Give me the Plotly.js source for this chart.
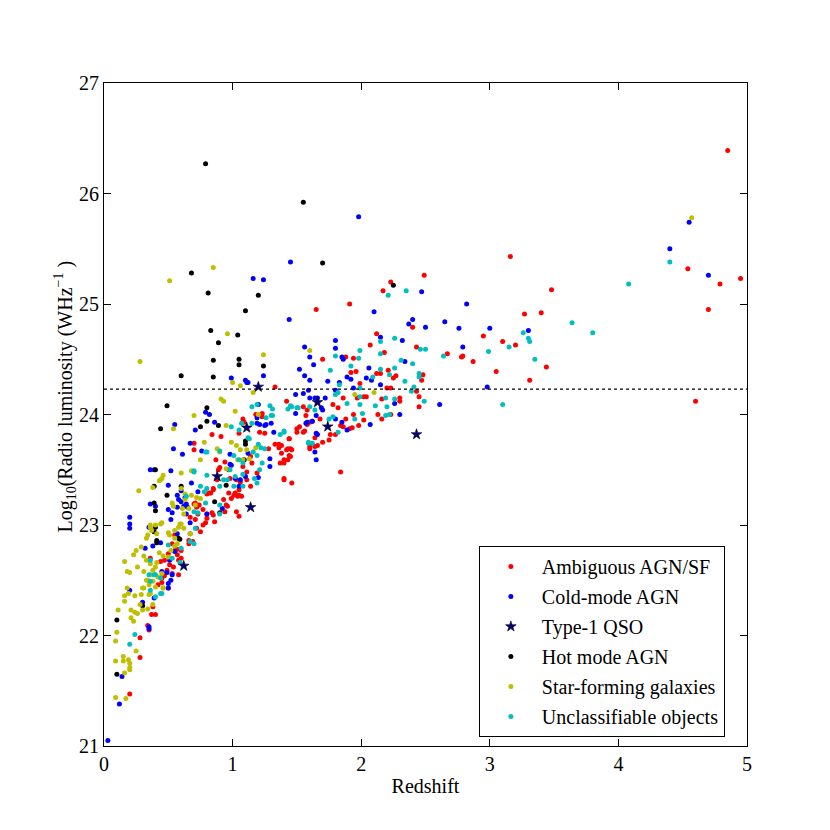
<!DOCTYPE html>
<html>
<head>
<meta charset="utf-8">
<script src="https://cdn.plot.ly/plotly-3.0.1.min.js"></script>
<style>html,body{margin:0;padding:0;background:#fff;}#chart{width:830px;height:830px;}</style>
</head>
<body>
<div id="chart"></div>
<script>
// Series names
const seriesNames = ["Ambiguous AGN/SF", "Cold-mode AGN", "Type-1 QSO", "Hot mode AGN", "Star-forming galaxies", "Unclassifiable objects"];
// [redshift, log10 radio luminosity]
const ambiguousAGN = [[4.85,26.39],[3.16,25.43],[3.48,25.13],[3.27,24.91],[3.40,24.92],[2.95,24.71],[3.10,24.66],[3.20,24.63],[2.79,24.53],[2.87,24.48],[3.05,24.39],[3.31,24.31],[3.44,24.43],[4.54,25.32],[4.79,25.18],[4.95,25.23],[4.70,24.95],[4.60,24.12],[2.49,25.26],
[2.23,25.20],[2.17,25.12],[1.91,25.0],[1.65,24.95],[2.40,24.79],[2.12,24.73],[2.07,24.63],[2.43,24.61],[2.18,24.56],[2.67,24.55],[2.78,24.52],[1.70,24.50],[1.88,24.52],[1.94,24.51],[1.96,24.39],[1.92,24.38],[2.12,24.37],[2.15,24.37],[2.21,24.40],[2.25,24.33],[2.27,24.35],[2.23,24.24],[2.48,24.36],[2.47,24.31],[2.43,24.21],[2.45,24.16],[2.45,24.07],[2.30,24.15],[2.30,24.12],[2.16,24.14],[2.20,24.24],[1.99,24.28],[1.97,24.15],[2.02,24.16],[2.04,24.16],[1.91,23.87],[1.93,23.88],[1.86,23.89],[1.84,23.90],[1.98,23.90],[2.02,23.95],[1.94,24.0],[1.88,23.96],[2.13,24.0],[2.16,23.96],[2.23,24.0],[1.82,24.06],[1.78,24.09],[1.86,24.15],[1.76,23.82],[1.80,23.82],[1.75,23.77],[1.70,23.75],[1.64,23.79],[1.60,23.93],[1.62,23.94],[1.58,23.91],[1.52,23.89],[1.50,23.87],[1.50,23.84],[1.55,23.84],[1.58,24.04],[1.68,23.96],[1.42,24.12],[1.64,23.71],[1.66,23.72],[1.60,23.69],[1.44,23.78],[1.45,23.69],[1.42,23.68],[1.44,23.63],[1.40,23.56],[1.38,23.72],[1.84,23.48],[1.40,23.42],
[1.33,24.25],[1.55,24.07],[1.57,23.99],[1.56,23.85],[1.60,23.71],[0.84,23.82],[0.91,23.80],[1.05,23.83],[1.08,23.96],[1.09,23.93],[1.18,24.00],[1.23,23.98],[1.21,23.84],[1.25,23.83],[1.33,23.73],[1.36,23.70],[1.38,23.65],[1.43,23.69],[1.46,23.68],[1.43,23.59],[1.37,23.56],[1.28,23.69],[1.14,23.62],[1.08,23.53],[1.11,23.48],[1.15,23.56],[1.19,23.47],[0.94,23.57],[0.90,23.52],[0.97,23.50],[0.98,23.42],[1.03,23.41],[1.06,23.39],[1.11,23.41],[1.14,23.35],[1.05,23.32],[1.02,23.29],[1.05,23.27],[1.07,23.26],[0.97,23.29],[0.93,23.23],[0.85,23.33],[0.82,23.29],[0.71,23.20],[0.77,23.14],[0.80,23.10],[0.84,23.11],[0.94,23.12],[0.88,23.41],[0.87,23.59],[1.40,23.59],[1.45,23.62],[1.40,23.41],[1.46,23.38],[1.36,23.73],[1.44,23.78],[1.23,24.01],[0.70,23.74],[0.70,23.68],[0.89,23.50],[1.01,23.27],[0.99,23.24],[1.04,23.26],[1.05,23.08],[0.96,23.17],[0.74,23.18],[0.71,23.05],
[0.80,23.28],[0.83,23.29],[0.85,23.32],[0.70,23.19],[0.72,23.16],[0.73,23.10],[0.67,23.07],[0.80,23.06],[0.77,23.00],[0.79,23.02],[0.72,22.97],[0.75,22.94],[0.86,23.03],[0.95,23.18],[1.03,23.12],[0.66,22.86],[0.69,22.85],[0.60,22.77],[0.55,22.77],[0.57,22.73],[0.50,22.74],[0.47,22.68],[0.51,22.64],[0.54,22.62],[0.58,22.68],[0.60,22.70],[0.47,22.54],[0.45,22.52],[0.50,22.43],[0.42,22.46],[0.85,23.09],[0.67,22.92],[0.66,22.83],[0.55,22.91],[0.53,22.83],[0.57,22.78],[0.44,22.67],[0.49,22.59],[0.53,22.56],[0.58,22.55],[0.46,22.56],[0.45,22.48],[0.40,22.19],[0.37,22.19],[0.34,22.09],[0.35,22.05],[0.28,21.98],[0.28,21.80],[0.20,21.47],[0.36,22.70],[0.38,22.26]];
const coldModeAGN = [[1.16,25.23],[1.24,25.22],[1.45,25.38],[1.44,24.86],[1.56,24.61],[1.60,24.52],[1.63,24.45],[1.52,24.41],[1.56,24.35],[1.60,24.31],[1.80,24.67],[1.80,24.60],[1.74,24.30],[0.99,24.33],[1.10,24.31],[1.12,24.29],[1.24,24.35],[1.98,25.79],[2.65,24.84],[2.47,25.11],[2.82,25.00],[2.10,24.93],[2.40,24.86],[2.37,24.82],[2.50,24.79],[2.76,24.78],[2.15,24.70],[2.32,24.67],[2.79,24.61],[1.85,24.52],[1.86,24.50],[2.06,24.42],[2.34,24.48],[1.89,24.34],[1.92,24.32],[1.83,24.29],[2.04,24.33],[2.08,24.31],[1.94,24.24],[1.80,24.22],[1.49,24.18],[1.55,24.19],[1.60,24.15],[1.64,24.15],[1.66,24.15],[1.72,24.15],[1.69,24.06],[1.70,24.04],[1.49,24.01],[1.65,23.99],[1.80,23.96],[1.85,23.93],[1.57,23.92],[1.65,23.83],[1.66,23.82],[1.89,23.86],[2.07,23.91],[2.26,24.10],[2.30,24.00],[2.15,24.27],[2.61,24.09],[1.64,23.66],[3.00,24.78],[2.98,24.25],[3.30,24.76],[4.40,25.50],[4.55,25.74],[4.70,25.26],
[1.11,24.29],[1.20,24.09],[0.79,24.02],[0.82,24.00],[0.86,23.93],[0.55,23.91],[0.71,23.86],[0.67,23.74],[0.54,23.69],[0.61,23.64],[0.36,23.50],[0.39,23.50],[0.52,23.49],[0.50,23.36],[0.60,23.31],[0.57,23.27],[0.63,23.25],[0.36,23.19],[0.40,23.17],[0.64,23.19],[0.57,23.16],[0.64,23.10],[0.52,23.05],[0.20,23.07],[0.20,23.01],[0.20,22.97],[0.35,22.98],[0.57,22.92],[0.67,23.02],[0.32,22.79],[0.38,22.81],[0.44,22.84],[0.51,22.68],[0.45,22.58],[0.98,23.64],[1.02,23.42],[1.06,23.41],[1.10,23.44],[1.05,23.35],[0.80,23.10],[0.99,23.54],[1.12,23.65],[1.21,23.91],[1.25,23.90],[1.19,23.97],[1.32,23.84],[0.76,23.67],[1.19,23.92],[1.26,23.91],[1.30,23.92],[1.59,24.22],[1.58,23.93],[1.62,23.94],[1.65,23.59],[0.98,23.55],[1.29,23.60],[1.29,23.53],[1.20,23.43],[0.68,23.38],[0.73,23.30],[0.62,23.17],[0.65,23.16],[0.92,23.15],[0.20,22.41],[0.30,22.30],[0.39,22.34],[0.35,22.08],[0.35,22.06],[0.14,21.63],[0.12,21.38],[0.03,21.05],[0.49,22.57],[0.53,22.55],[0.50,22.43],[0.52,22.50],[0.55,22.76],[0.58,23.23],[0.60,23.21],[0.53,23.11],[0.50,23.14],[0.50,22.47]];
const type1QSO = [[1.20,24.25],[1.11,23.88],[0.88,23.44],[1.14,23.16],[0.62,22.63],[1.66,24.11],[1.74,23.89],[2.43,23.82]];
const hotModeAGN = [[0.79,26.27],[1.55,25.92],[0.68,25.28],[0.81,25.10],[1.20,25.08],[1.10,24.94],[1.70,25.37],[0.83,24.76],[1.04,24.72],[0.89,24.65],[0.85,24.49],[1.05,24.50],[1.05,24.45],[1.24,24.44],[0.60,24.35],[0.85,24.34],[2.25,25.17],[0.49,24.08],[0.44,23.87],[0.80,24.06],[0.80,23.94],[0.75,23.89],[0.40,23.50],[0.39,23.35],[0.39,23.20],[0.40,23.13],[0.39,22.94],[1.10,23.76],[1.10,23.73],[0.95,23.36],[0.86,23.21],[0.90,23.11],[0.58,22.88],[0.41,22.84],[0.10,22.14],[0.30,22.27],[0.10,21.65],[0.40,22.98],[0.41,22.86],[0.59,22.87],[0.60,23.35],[0.49,23.27],[0.89,23.90],[1.09,23.59]];
const starForming = [[0.51,25.21],[0.85,25.33],[0.96,24.73],[0.28,24.48],[1.24,24.54],[1.60,24.58],[1.00,24.29],[1.06,24.26],[4.57,25.78],[1.95,24.18],[2.10,24.20],[0.91,24.14],[0.93,24.12],[1.02,24.03],[1.16,24.20],[1.20,24.00],[0.70,23.99],[0.54,23.87],[0.78,23.75],[0.75,23.59],[0.95,23.90],[0.99,23.75],[1.03,23.72],[1.06,23.68],[1.11,23.68],[1.08,23.59],[1.04,23.59],[1.13,23.60],[1.16,23.66],[1.18,23.70],[0.88,23.69],[0.90,23.66],[0.95,23.51],[0.68,23.49],[0.44,23.41],[0.43,23.40],[0.46,23.45],[0.60,23.33],[0.63,23.28],[0.75,23.24],[0.72,23.25],[0.54,23.17],[0.53,23.20],[0.61,23.15],[0.66,23.15],[0.36,22.98],[0.40,23.00],[0.45,23.02],[0.50,22.93],[0.55,22.95],[0.59,23.01],[0.62,22.97],[0.27,23.31],[0.38,23.34],[0.45,23.42],[0.60,23.47],[0.34,22.91],[0.37,22.95],[0.36,23.00],[0.44,23.01],[0.41,22.92],[0.51,22.91],[0.55,22.88],[0.58,22.98],[0.60,23.01],[0.67,22.92],[0.25,22.77],[0.23,22.73],[0.16,22.67],[0.31,22.72],[0.33,22.68],[0.36,22.65],[0.40,22.62],[0.38,22.59],[0.46,22.72],[0.50,22.71],[0.52,22.77],[0.55,22.81],[0.57,22.83],[0.18,22.58],[0.31,22.58],[0.34,22.50],[0.31,22.43],[0.40,22.44],[0.46,22.43],[0.16,22.36],[0.24,22.36],[0.29,22.37],[0.36,22.38],[0.62,23.10],[0.63,23.23],[0.68,23.27],[0.71,23.18],[0.20,22.57],[0.33,22.50],[0.35,22.46],[0.36,22.55],[0.45,22.56],[0.46,22.43],[0.18,22.43],[0.19,22.38],[0.30,22.43],[0.35,22.37],[0.16,22.31],[0.11,22.23],[0.21,22.23],[0.24,22.21],[0.26,22.20],[0.21,22.16],[0.23,22.13],[0.28,22.28],[0.30,22.23],[0.34,22.24],[0.38,22.28],[0.10,22.03],[0.09,21.95],[0.25,21.86],[0.15,21.81],[0.15,21.77],[0.09,21.77],[0.19,21.78],[0.20,21.75],[0.20,21.71],[0.20,21.69],[0.16,21.66],[0.09,21.44],[0.17,21.43],[0.41,22.66],[0.43,22.75],[0.38,22.49],[0.42,22.53],[0.26,22.62],[0.29,22.80],[0.33,22.88]];
const unclassifiable = [[4.08,25.18],[4.40,25.38],[3.64,24.83],[3.80,24.74],[3.26,24.74],[3.30,24.69],[3.31,24.66],[3.15,24.61],[2.99,24.57],[3.35,24.50],[3.10,24.09],[2.21,25.08],[2.35,25.12],[2.15,24.66],[2.26,24.69],[2.15,24.55],[2.46,24.59],[2.50,24.59],[2.64,24.53],[1.99,24.58],[1.98,24.51],[1.80,24.53],[1.76,24.40],[1.92,24.44],[2.15,24.41],[2.22,24.36],[2.26,24.42],[2.31,24.49],[2.40,24.46],[2.45,24.37],[2.45,24.34],[2.34,24.30],[2.41,24.25],[2.39,24.21],[2.49,24.12],[1.99,24.24],[1.99,24.16],[1.99,24.09],[2.01,24.01],[1.95,23.96],[2.19,24.15],[2.26,24.14],[2.20,24.07],[2.19,23.99],[2.22,24.00],[2.11,24.08],[1.83,24.27],[1.82,24.20],[1.80,24.18],[1.89,24.10],[1.78,23.98],[1.75,23.96],[1.64,24.04],[1.60,24.07],[1.45,24.08],[1.50,24.06],[1.40,23.84],[1.59,23.75],[1.82,23.84],[2.09,24.34],
[1.19,24.09],[1.31,24.05],[1.30,23.99],[1.26,23.97],[1.43,24.05],[1.51,24.06],[1.62,23.74],[1.59,23.74],[0.99,23.89],[1.07,23.92],[1.15,23.92],[1.05,23.86],[1.12,23.79],[1.20,23.73],[1.22,23.70],[1.25,23.69],[1.37,23.82],[1.40,23.85],[1.23,23.56],[1.21,23.50],[1.19,23.63],[1.16,23.66],[1.08,23.56],[1.05,23.59],[1.01,23.63],[0.90,23.67],[0.80,23.66],[0.70,23.49],[0.80,23.45],[0.93,23.41],[1.02,23.44],[1.08,23.46],[0.98,23.50],[0.90,23.35],[1.01,23.35],[1.08,23.35],[0.75,23.35],[0.90,23.18],[0.90,23.10],[1.17,23.42],[1.19,23.38],[0.64,23.26],[0.70,23.48],[0.80,23.33],[0.78,23.30],[0.70,23.12],[0.73,23.11],[0.71,22.97],[0.67,22.85],[0.70,22.83],[0.60,22.79],[0.50,22.82],[0.53,22.70],[0.36,22.68],[0.44,22.52],[0.40,22.55],[0.36,22.49],[0.45,22.38],[0.40,22.35],[0.96,23.41],[0.79,23.20],[0.35,22.55],[0.39,22.55],[0.36,22.41],[0.44,22.38],[0.59,22.66],[0.24,22.01],[0.20,21.92],[0.79,23.66],[1.13,23.78],[1.15,24.07],[1.29,24.08],[1.31,23.99],[1.46,24.07]];
// Radio-luminosity threshold (dotted line)
const thresholdLum = 24.23;
const xTicks = [0,1,2,3,4,5];
const yTicks = [21,22,23,24,25,26,27];
const xTitle = 'Redshift';
const yTitle = 'Log<sub>10</sub>(Radio luminosity (WHz<sup>\u22121</sup> )';

const FONT = "Liberation Serif, Times New Roman, serif";
function sc(data, name, color, rank, extra) {
  return Object.assign({
    type: 'scatter', mode: 'markers', name: name, legendgroup: name, legendrank: rank,
    x: data.map(d => d[0]), y: data.map(d => d[1]),
    marker: {color: color, size: 5, line: {width: 0}}
  }, extra || {});
}
const traces = [
  sc(ambiguousAGN, seriesNames[0], '#ff0000', 1),
  sc(coldModeAGN, seriesNames[1], '#0000ff', 2),
  sc(hotModeAGN, seriesNames[3], '#000000', 4),
  sc(starForming, seriesNames[4], '#bfbf00', 5),
  sc(unclassifiable, seriesNames[5], '#00bfbf', 6),
  sc(type1QSO, seriesNames[2], '#000080', 3, {marker: {color: '#000080', size: 8, symbol: 'star', line: {color: '#000000', width: 0.6}}})
];
const axisCommon = {
  showline: true, linecolor: '#000', linewidth: 1, mirror: 'ticks',
  ticks: 'inside', ticklen: 7, tickwidth: 1, tickcolor: '#000',
  showgrid: false, zeroline: false,
  tickfont: {family: FONT, size: 20, color: '#000'}
};
const layout = {
  width: 830, height: 830,
  margin: {l: 104, r: 83, t: 83, b: 84},
  paper_bgcolor: '#fff', plot_bgcolor: '#fff',
  showlegend: true,
  xaxis: Object.assign({}, axisCommon, {range: [0, 5], tickvals: xTicks, ticktext: xTicks.map(String),
    title: {text: xTitle, font: {family: FONT, size: 20, color: '#000'}, standoff: 4}}),
  yaxis: Object.assign({}, axisCommon, {range: [21, 27], tickvals: yTicks, ticktext: yTicks.map(String)}),
  annotations: [{xref: 'paper', yref: 'paper', x: -0.0607, y: 0.527, xanchor: 'center', yanchor: 'middle',
    text: yTitle, textangle: -90, showarrow: false, font: {family: FONT, size: 20, color: '#000'}}],
  shapes: [{type: 'line', xref: 'paper', x0: 0, x1: 1, yref: 'y', y0: thresholdLum, y1: thresholdLum,
    line: {color: '#000', width: 1.2, dash: 'dot'}}],
  legend: {x: 0.583, y: 0.0136, xanchor: 'left', yanchor: 'bottom',
    bgcolor: '#fff', bordercolor: '#000', borderwidth: 1,
    font: {family: FONT, size: 20, color: '#000'}, tracegroupgap: 1, itemwidth: 52}
};
Plotly.newPlot('chart', traces, layout, {staticPlot: true, displayModeBar: false});
</script>
</body>
</html>
